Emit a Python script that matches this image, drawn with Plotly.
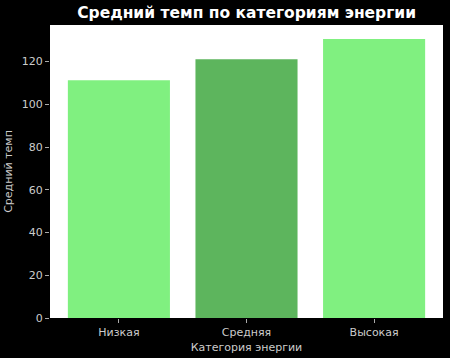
import plotly.graph_objects as go

categories = ["Низкая", "Средняя", "Высокая"]
values = [111.2, 121.1, 130.5]
colors = ["#80F080", "#5DB55D", "#80F080"]

fig = go.Figure(go.Bar(x=categories, y=values, marker=dict(color=colors, line=dict(width=0))))

fig.update_layout(
    width=450, height=358,
    paper_bgcolor="black", plot_bgcolor="white",
    margin=dict(l=50, r=7, t=25, b=40),
    bargap=0.2,
    showlegend=False,
    font=dict(family="DejaVu Sans", color="#cccccc", size=11),
    title=dict(text="<b>Средний темп по категориям энергии</b>", x=0.548, xanchor="center",
               y=0.966, yanchor="middle", font=dict(size=15.5, color="white", family="DejaVu Sans")),
)
fig.update_xaxes(range=[-0.54, 2.54], showgrid=False, ticks="outside", ticklen=4, tickcolor="#aaaaaa",
                 title=dict(text="Категория энергии", standoff=5, font=dict(size=11, color="#cccccc")),
                 tickfont=dict(size=11, color="#cccccc"))
fig.update_yaxes(range=[0, 137.1], showgrid=False, ticks="outside", ticklen=4, tickcolor="#aaaaaa",
                 tickvals=[0, 20, 40, 60, 80, 100, 120], zeroline=False,
                 title=dict(text="Средний темп", standoff=6, font=dict(size=11, color="#cccccc")),
                 tickfont=dict(size=11, color="#cccccc"))

fig.write_html("out.html")
